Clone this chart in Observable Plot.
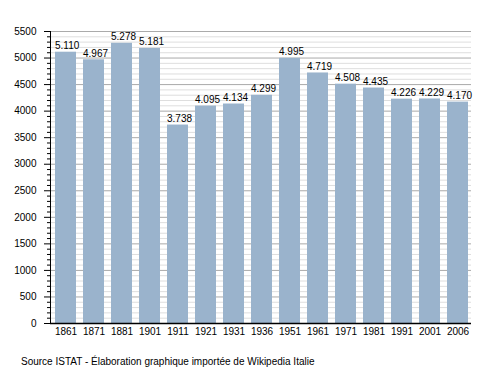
<!DOCTYPE html>
<html>
<head>
<meta charset="utf-8">
<script src="https://cdn.jsdelivr.net/npm/d3@7"></script>
<script src="https://cdn.jsdelivr.net/npm/@observablehq/plot@0.6"></script>
<style>
  body { margin: 0; background: #fff; font-family: "Liberation Sans", Arial, sans-serif; }
  #chart svg { display: block; }
  #caption { font-size: 10px; line-height: 12px; margin-top: 4px; padding-left: 21px; color: #000; }
</style>
</head>
<body>
<div id="chart"></div>
<div id="caption">Source ISTAT - Élaboration graphique importée de Wikipedia Italie</div>
<script>
const years = ["1861","1871","1881","1901","1911","1921","1931","1936","1951","1961","1971","1981","1991","2001","2006"];
const population = [5110,4967,5278,5181,3738,4095,4134,4299,4995,4719,4508,4435,4226,4229,4170];
const majorTicks = d3.range(0, 5501, 500);
const minorTicks = d3.range(0, 5501, 100).filter(v => v % 500 !== 0);

const data = years.map((y, i) => ({year: y, pop: population[i]}));
const fmt = d3.formatLocale({decimal: ",", thousands: ".", grouping: [3]}).format(",d");

const plot = Plot.plot({
  width: 500,
  height: 352,
  marginTop: 31,
  marginBottom: 29,
  marginLeft: 50,
  marginRight: 29,
  style: {fontFamily: "Liberation Sans, Arial, sans-serif", fontSize: "10px", color: "#000", background: "#fff"},
  x: {domain: years, range: [51.5, 471], paddingInner: 0.262, paddingOuter: 0, label: null},
  y: {domain: [0, 5500], label: null},
  marks: [
    Plot.ruleY(minorTicks, {stroke: "#dedede", strokeWidth: 1}),
    Plot.ruleY(majorTicks, {stroke: "#aaaaaa", strokeWidth: 1}),
    Plot.barY(data, {x: "year", y: "pop", fill: "#9ab3cc"}),
    Plot.text(data, {x: "year", y: "pop", text: d => fmt(d.pop), textAnchor: "start", lineAnchor: "bottom", dx: -11, dy: -3, fill: "#000", fontSize: 10}),
    Plot.axisY({ticks: minorTicks, tickSize: 3, text: null, stroke: "#000"}),
    Plot.axisY({ticks: majorTicks, tickSize: 6, tickPadding: 8, tickFormat: d => String(d), stroke: "#000", fill: "#000"}),
    Plot.axisX({tickSize: 0, tickPadding: 4, fill: "#000"}),
    Plot.frame({anchor: "left", stroke: "#000"}),
    Plot.ruleY([0], {stroke: "#000", strokeWidth: 1.5})
  ]
});
document.getElementById("chart").appendChild(plot);
</script>
</body>
</html>
